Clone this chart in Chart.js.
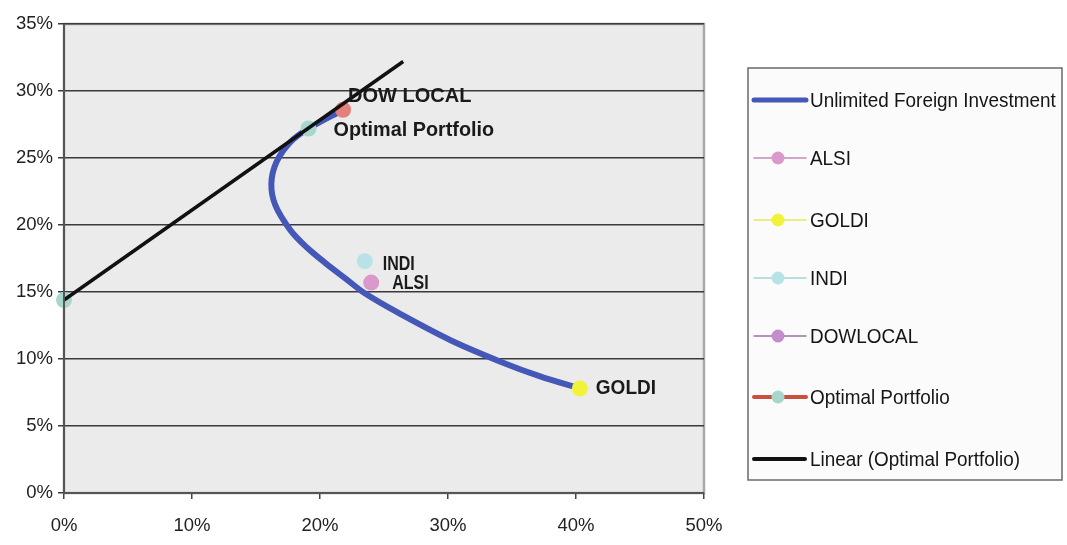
<!DOCTYPE html>
<html>
<head>
<meta charset="utf-8">
<script src="https://cdn.jsdelivr.net/npm/chart.js@4.4.1/dist/chart.umd.min.js"></script>
<style>
  html, body { margin: 0; padding: 0; background: #ffffff; }
  #wrap { width: 1067px; height: 545px; position: relative; }
</style>
</head>
<body>
<div id="wrap"><canvas id="c" width="1067" height="545"></canvas></div>
<script>
// Efficient frontier with unlimited foreign investment (risk %, return %)
const frontierRisk   = [21.8, 19.1, 17.7, 16.6, 16.2, 16.5, 17.7, 19.0, 20.5, 22.0, 23.5, 26.2, 30.2, 34.1, 37.2, 40.3];
const frontierReturn = [28.6, 27.2, 26.2, 24.7, 23.1, 21.5, 19.6, 18.3, 17.1, 16.0, 14.9, 13.4, 11.4,  9.8,  8.7,  7.8];

// Individual assets
const assetNames  = ['ALSI', 'GOLDI', 'INDI', 'DOWLOCAL'];
const assetLabels = ['ALSI', 'GOLDI', 'INDI', 'DOW LOCAL'];
const assetRisk   = [24.0, 40.3, 23.5, 21.8];
const assetReturn = [15.7,  7.8, 17.3, 28.6];

// Optimal portfolio: risk-free point and tangency portfolio
const optimalRisk   = [0.0, 19.1];
const optimalReturn = [14.4, 27.2];

// Capital market line (linear fit through the optimal portfolio points)
const lineRisk   = [0.0, 26.5];
const lineReturn = [14.4, 32.2];

const xTicks = [0, 10, 20, 30, 40, 50];
const yTicks = [0, 5, 10, 15, 20, 25, 30, 35];

const pts = (xs, ys) => xs.map((x, i) => ({ x: x, y: ys[i] }));

const assetFill   = ['#d99acb', '#f2f23a', '#b8e2e6', '#e47f7a'];
const legendFill  = ['#d99acb', '#f2f23a', '#b8e2e6', '#c58ccc'];
const assetLine   = ['#c48ab8', '#e8e85a', '#a8d4d4', '#a070a8'];

const datasets = [
  {
    label: 'Unlimited Foreign Investment',
    data: pts(frontierRisk, frontierReturn),
    showLine: true, borderColor: '#4558b8', borderWidth: 6,
    pointRadius: 0, tension: 0.35, order: 3
  }
];
assetNames.forEach((n, i) => {
  datasets.push({
    label: n,
    data: [{ x: assetRisk[i], y: assetReturn[i] }],
    showLine: false, pointRadius: 8, pointBorderWidth: 0, clip: false,
    backgroundColor: assetFill[i], borderColor: assetLine[i], order: 1
  });
});
datasets.push({
  label: 'Optimal Portfolio',
  data: pts(optimalRisk, optimalReturn),
  showLine: false, pointRadius: 8, pointBorderWidth: 0, clip: false,
  backgroundColor: '#a6d6cc', borderColor: '#c8503c', order: 1
});
datasets.push({
  label: 'Linear (Optimal Portfolio)',
  data: pts(lineRisk, lineReturn),
  showLine: true, borderColor: '#111111', borderWidth: 3.5, clip: false,
  pointRadius: 0, tension: 0, order: 0
});

// Plot background and frame
const plotFrame = {
  id: 'plotFrame',
  beforeDraw(chart) {
    const { ctx, chartArea: a } = chart;
    ctx.save();
    ctx.fillStyle = '#ebebeb';
    ctx.fillRect(a.left, a.top, a.right - a.left, a.bottom - a.top);
    ctx.strokeStyle = '#a8a8a8';
    ctx.lineWidth = 2.5;
    ctx.strokeRect(a.left, a.top, a.right - a.left, a.bottom - a.top);
    ctx.restore();
  },
  afterDatasetsDraw(chart) {
    const { ctx, chartArea: a } = chart;
    ctx.save();
    ctx.strokeStyle = '#555555';
    ctx.lineWidth = 2;
    ctx.beginPath();
    ctx.moveTo(a.left, a.top); ctx.lineTo(a.left, a.bottom); ctx.lineTo(a.right, a.bottom);
    ctx.stroke();
    ctx.restore();
  }
};

// Point labels next to each asset and the optimal portfolio
function drawText(ctx, t, x, y, sx) {
  ctx.save();
  ctx.translate(x, y);
  ctx.scale(sx, 1);
  ctx.fillText(t, 0, 0);
  ctx.restore();
}
const pointLabels = {
  id: 'pointLabels',
  afterDatasetsDraw(chart) {
    const { ctx, scales: { x, y } } = chart;
    ctx.save();
    ctx.font = 'bold 20px "Liberation Sans", Arial, sans-serif';
    ctx.fillStyle = '#1a1a1a';
    ctx.textBaseline = 'middle';
    ctx.textAlign = 'left';
    const offs = [[21, 1], [16, 0], [18, 3], [5, -13]];
    const sx = [0.8, 0.95, 0.8, 1.0];
    assetLabels.forEach((t, i) => {
      drawText(ctx, t, x.getPixelForValue(assetRisk[i]) + offs[i][0], y.getPixelForValue(assetReturn[i]) + offs[i][1], sx[i]);
    });
    drawText(ctx, 'Optimal Portfolio', x.getPixelForValue(optimalRisk[1]) + 25, y.getPixelForValue(optimalReturn[1]) + 2, 0.99);
    ctx.restore();
  }
};

// Boxed legend on the right
const sideLegend = {
  id: 'sideLegend',
  afterDraw(chart) {
    const { ctx } = chart;
    const bx = 748, by = 68, bw = 314, bh = 412;
    ctx.save();
    ctx.fillStyle = '#fbfbfb';
    ctx.fillRect(bx, by, bw, bh);
    ctx.strokeStyle = '#6a6a6a';
    ctx.lineWidth = 1.5;
    ctx.strokeRect(bx, by, bw, bh);
    const rows = [100, 158, 220, 278, 336, 397, 459];
    const x0 = 752, x1 = 808;
    ctx.font = '21px "Liberation Sans", Arial, sans-serif';
    ctx.textBaseline = 'middle';
    ctx.textAlign = 'left';
    chart.data.datasets.forEach((ds, i) => {
      const yy = rows[i];
      ctx.lineCap = 'round';
      if (i === 0) {
        ctx.strokeStyle = ds.borderColor; ctx.lineWidth = 5;
        ctx.beginPath(); ctx.moveTo(x0 + 2, yy); ctx.lineTo(x1 - 2, yy); ctx.stroke();
      } else if (i === datasets.length - 1) {
        ctx.strokeStyle = ds.borderColor; ctx.lineWidth = 4;
        ctx.beginPath(); ctx.moveTo(x0 + 2, yy); ctx.lineTo(x1 - 3, yy); ctx.stroke();
      } else {
        const isOpt = i === datasets.length - 2;
        ctx.strokeStyle = ds.borderColor; ctx.lineWidth = isOpt ? 4 : 1.5;
        ctx.beginPath(); ctx.moveTo(x0 + 2, yy); ctx.lineTo(x1 - 2, yy); ctx.stroke();
        ctx.fillStyle = isOpt ? ds.backgroundColor : legendFill[i - 1];
        ctx.beginPath(); ctx.arc((x0 + x1) / 2 - 2, yy, 6.5, 0, Math.PI * 2); ctx.fill();
      }
      ctx.fillStyle = '#151515';
      drawText(ctx, ds.label, x1 + 2, yy + 1, 0.9);
    });
    ctx.restore();
  }
};

new Chart(document.getElementById('c'), {
  type: 'scatter',
  data: { datasets: datasets },
  options: {
    responsive: false,
    animation: false,
    layout: { padding: { top: 24, right: 363, left: 0, bottom: 0 } },
    plugins: { legend: { display: false }, tooltip: { enabled: false } },
    scales: {
      x: {
        type: 'linear', min: 0, max: 50,
        afterBuildTicks: s => { s.ticks = xTicks.map(v => ({ value: v })); },
        afterFit: s => { s.height = 52; },
        border: { display: false },
        grid: { drawOnChartArea: false, drawTicks: true, tickLength: 6, color: '#444444', lineWidth: 1.5 },
        ticks: {
          color: '#222222', padding: 16,
          font: { family: '"Liberation Sans", Arial, sans-serif', size: 18.5 },
          callback: v => v + '%'
        }
      },
      y: {
        type: 'linear', min: 0, max: 35,
        afterBuildTicks: s => { s.ticks = yTicks.map(v => ({ value: v })); },
        afterFit: s => { s.width = 64; },
        border: { display: false },
        grid: { drawOnChartArea: true, drawTicks: true, tickLength: 6, color: '#3a3a3a', lineWidth: 1.5 },
        ticks: {
          color: '#222222', padding: 5,
          font: { family: '"Liberation Sans", Arial, sans-serif', size: 18.5 },
          callback: v => v + '%'
        }
      }
    }
  },
  plugins: [plotFrame, pointLabels, sideLegend]
});
</script>
</body>
</html>
